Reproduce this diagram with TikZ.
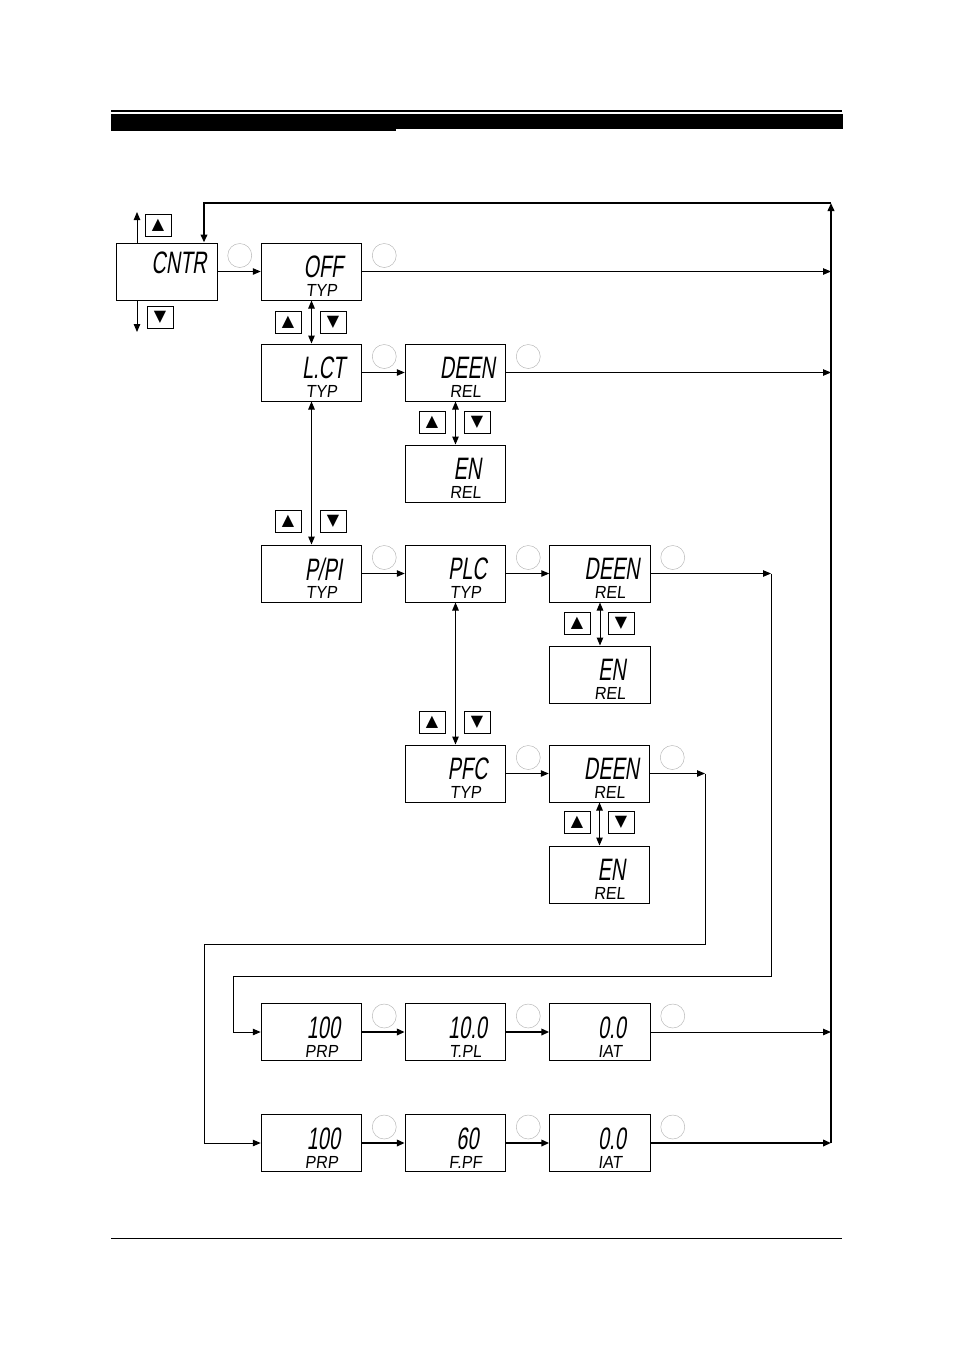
\documentclass[tikz,border=0pt]{standalone}
\usepackage{fontspec}
\usetikzlibrary{arrows.meta, positioning}
\newfontfamily\segfont[FakeStretch=0.64,FakeSlant=0.15]{Liberation Sans}
\newfontfamily\segsmall[FakeStretch=0.92,FakeSlant=0.12]{Liberation Sans}
\newfontfamily\keyfont{DejaVu Sans}

\begin{document}
\begin{tikzpicture}[
        x=1pt, y=-1pt,
        disp/.style={rectangle, draw=black, line width=1pt, minimum width=100.5pt, minimum height=57pt, inner sep=0pt},
        bigtxt/.style={font=\segfont\fontsize{31}{31}\selectfont, inner sep=0pt, xshift=12pt, yshift=4.5pt},
        smalltxt/.style={font=\segsmall\fontsize{17.5}{17.5}\selectfont, inner sep=0pt, xshift=10pt, yshift=-19pt},
        reads/.style 2 args={label={[bigtxt]center:#1}, label={[smalltxt]center:#2}},
        ring/.style={circle, draw=gray!55, line width=0.5pt, minimum size=24pt, inner sep=0pt},
        keybox/.style={rectangle, draw=black, line width=0.8pt, minimum width=26pt, minimum height=22pt, inner sep=0pt, font=\keyfont\fontsize{16}{16}\selectfont},
        arrow/.style={-{Triangle[length=8pt, width=6.5pt]}, line width=1pt},
        twoway/.style={{Triangle[length=8pt, width=6.5pt]}-{Triangle[length=8pt, width=6.5pt]}, line width=1pt},
        heavy/.style={line width=2pt}
    ]
    \useasboundingbox (0,0) rectangle (954,1350);

    % page rules
    \draw [line width=1.3pt] (111,111) -- (842,111);
    \fill (111,114) rectangle (843,129);
    \fill (111,129) rectangle (396,131);
    \draw [line width=1pt] (111,1238) -- (842,1238);

    \node (cntr) [disp, label={[bigtxt, yshift=4pt]center:CNTR}] at (167,271.5) {};
    \node (off) [disp, right=43pt of cntr, reads={OFF}{TYP}] {};
    \node (lct) [disp, below=43pt of off, reads={L.CT}{TYP}] {};
    \node (deen1) [disp, right=42.5pt of lct, reads={DEEN}{REL}] {};
    \node (en1) [disp, below=43pt of deen1, reads={EN}{REL}] {};
    \node (ppi) [disp, below=143pt of lct, reads={P/PI}{TYP}] {};
    \node (plc) [disp, right=42.5pt of ppi, reads={PLC}{TYP}] {};
    \node (deen2) [disp, right=43pt of plc, reads={DEEN}{REL}] {};
    \node (en2) [disp, below=43pt of deen2, reads={EN}{REL}] {};
    \node (pfc) [disp, below=142pt of plc, reads={PFC}{TYP}] {};
    \node (deen3) [disp, right=42.5pt of pfc, reads={DEEN}{REL}] {};
    \node (en3) [disp, below=43pt of deen3, reads={EN}{REL}] {};
    \node (prp1) [disp, reads={100}{PRP}] at (311.5,1032) {};
    \node (tpl) [disp, right=42.5pt of prp1, reads={10.0}{T.PL}] {};
    \node (iat1) [disp, right=43pt of tpl, reads={0.0}{IAT}] {};
    \node (prp2) [disp, below=53pt of prp1, reads={100}{PRP}] {};
    \node (fpf) [disp, right=42.5pt of prp2, reads={60}{F.PF}] {};
    \node (iat2) [disp, right=43pt of fpf, reads={0.0}{IAT}] {};

    \foreach \b in {cntr,off,lct,deen1,ppi,plc,deen2,pfc,deen3,prp1,tpl,iat1,prp2,fpf,iat2}
        \node (r-\b) [ring] at ([shift={(22,13)}]\b.north east) {};

    \node (cntr-up) [keybox] at (158,225) {▲};
    \node (cntr-dn) [keybox] at (160,317) {▼};
    \node (off-up) [keybox] at (288,322) {▲};
    \node (off-dn) [keybox] at (333,322) {▼};
    \node (lct-up) [keybox] at (288,521) {▲};
    \node (lct-dn) [keybox] at (333,521) {▼};
    \node (deen1-up) [keybox] at (432,422) {▲};
    \node (deen1-dn) [keybox] at (477,422) {▼};
    \node (plc-up) [keybox] at (432,722) {▲};
    \node (plc-dn) [keybox] at (477,722) {▼};
    \node (deen2-up) [keybox] at (577,623) {▲};
    \node (deen2-dn) [keybox] at (621,623) {▼};
    \node (deen3-up) [keybox] at (577,822) {▲};
    \node (deen3-dn) [keybox] at (621,822) {▼};

    \coordinate (top) at (831,203);
    \coordinate (bot) at (iat2.east -| top);
    \coordinate (cup) at (137,212);
    \coordinate (cdn) at (137,332);
    \coordinate (j1) at (deen2.east -| 771,0);
    \coordinate (k1) at (233,976);
    \coordinate (j2) at (deen3.east -| 705,0);
    \coordinate (k2) at (204,944);

    \draw [arrow] (cntr.north -| cup) -- (cup);
    \draw [arrow] (cntr.south -| cdn) -- (cdn);
    \draw [arrow] (cntr.east) -- (off.west);
    \draw [arrow] (off.east) -- (off.east -| top);
    \draw [twoway] (off.south) -- (lct.north);
    \draw [arrow] (lct.east) -- (deen1.west);
    \draw [arrow] (deen1.east) -- (deen1.east -| top);
    \draw [twoway] (deen1.south) -- (en1.north);
    \draw [twoway] (lct.south) -- (ppi.north);
    \draw [arrow] (ppi.east) -- (plc.west);
    \draw [arrow] (plc.east) -- (deen2.west);
    \draw [twoway] (deen2.south) -- (en2.north);
    \draw [twoway] (plc.south) -- (pfc.north);
    \draw [arrow] (pfc.east) -- (deen3.west);
    \draw [twoway] (deen3.south) -- (en3.north);
    \draw [arrow] (deen2.east) -- (j1);
    \draw [arrow] (j1) |- (k1) |- (prp1.west);
    \draw [arrow] (deen3.east) -- (j2);
    \draw [arrow] (j2) |- (k2) |- (prp2.west);
    \draw [arrow, heavy] (prp1.east) -- (tpl.west);
    \draw [arrow, heavy] (tpl.east) -- (iat1.west);
    \draw [arrow] (iat1.east) -- (iat1.east -| top);
    \draw [arrow, heavy] (prp2.east) -- (fpf.west);
    \draw [arrow, heavy] (fpf.east) -- (iat2.west);
    \draw [arrow, heavy] (iat2.east) -- (bot);
    \draw [arrow, heavy] (bot) -- (top);
    \draw [arrow, heavy] (top) -| ([xshift=37pt]cntr.north);

\end{tikzpicture}
\end{document}
